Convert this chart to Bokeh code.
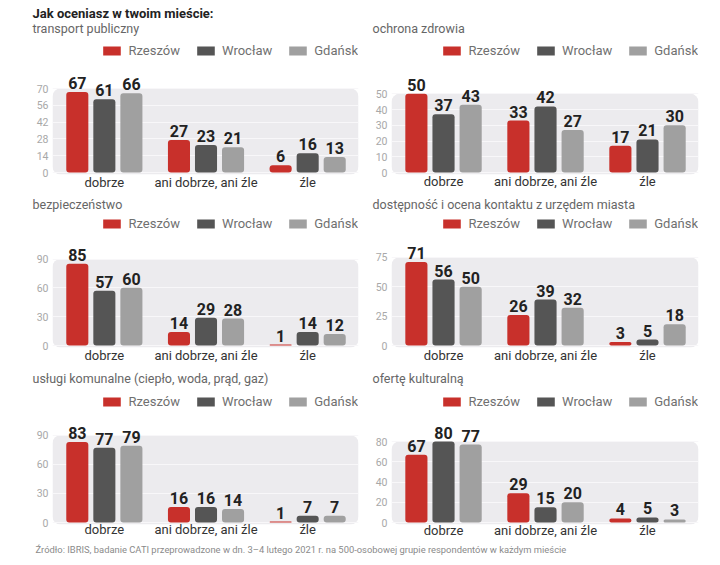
from bokeh.plotting import figure
from bokeh.models import ColumnDataSource, FixedTicker, BoxAnnotation, Label, Range1d
from bokeh.layouts import column, row
from bokeh.transform import dodge
from bokeh.core.properties import value
from bokeh.embed import file_html
from bokeh.resources import INLINE

# ---------------- data ----------------
cities = ["Rzeszów", "Wrocław", "Gdańsk"]
categories = ["dobrze", "ani dobrze, ani źle", "źle"]

main_title = "Jak oceniasz w twoim mieście:"
source_note = ("Źródło: IBRIS, badanie CATI przeprowadzone w dn. 3–4 lutego 2021 r. "
               "na 500-osobowej grupie respondentów w każdym mieście")

transport_title = "transport publiczny"
transport_rzeszow = [67, 27, 6]
transport_wroclaw = [61, 23, 16]
transport_gdansk = [66, 21, 13]
transport_ticks = [0, 14, 28, 42, 56, 70]

zdrowie_title = "ochrona zdrowia"
zdrowie_rzeszow = [50, 33, 17]
zdrowie_wroclaw = [37, 42, 21]
zdrowie_gdansk = [43, 27, 30]
zdrowie_ticks = [0, 10, 20, 30, 40, 50]

bezpieczenstwo_title = "bezpieczeństwo"
bezpieczenstwo_rzeszow = [85, 14, 1]
bezpieczenstwo_wroclaw = [57, 29, 14]
bezpieczenstwo_gdansk = [60, 28, 12]
bezpieczenstwo_ticks = [0, 30, 60, 90]

urzad_title = "dostępność i ocena kontaktu z urzędem miasta"
urzad_rzeszow = [71, 26, 3]
urzad_wroclaw = [56, 39, 5]
urzad_gdansk = [50, 32, 18]
urzad_ticks = [0, 25, 50, 75]

komunalne_title = "usługi komunalne (ciepło, woda, prąd, gaz)"
komunalne_rzeszow = [83, 16, 1]
komunalne_wroclaw = [77, 16, 7]
komunalne_gdansk = [79, 14, 7]
komunalne_ticks = [0, 30, 60, 90]

kultura_title = "ofertę kulturalną"
kultura_rzeszow = [67, 29, 4]
kultura_wroclaw = [80, 15, 5]
kultura_gdansk = [77, 20, 3]
kultura_ticks = [0, 20, 40, 60, 80]

# ---------------- style ----------------
COLORS = ["#c8302b", "#555555", "#a0a0a0"]
FONT = "Roboto"
OFFSETS = [-0.266, 0.0, 0.266]
BAR_W = 0.217
PAGE_W = 712


def make_panel(series, ticks, L):
    k = L["k"]
    fb = L["z0"] + 2
    p = figure(width=L["w"], height=L["bot"] - L["top"], output_backend="svg",
               toolbar_location=None, title_location=None,
               x_range=Range1d(-0.51, 2.50),
               y_range=Range1d(-2.0 / k, (L["z0"] - L["ft"]) / k),
               min_border_left=L["mbl"], min_border_right=L["mbr"],
               min_border_top=L["ft"] - L["top"], min_border_bottom=L["bot"] - fb)
    p.outline_line_color = None
    p.background_fill_color = "white"
    p.border_fill_color = "white"

    p.add_layout(BoxAnnotation(top=ticks[-1], fill_color="#ecebee", fill_alpha=1.0,
                               line_color=None, border_radius=8, level="image"))

    data = dict(x=list(range(len(categories))))
    for i, vals in enumerate(series):
        data["s%d" % i] = vals
        data["l%d" % i] = [str(v) for v in vals]
    src = ColumnDataSource(data)

    for i, city in enumerate(cities):
        p.vbar(x=dodge("x", OFFSETS[i]), top="s%d" % i, width=BAR_W, source=src,
               fill_color=COLORS[i], line_color=None, border_radius=3,
               legend_label=city)
        p.text(x=dodge("x", OFFSETS[i]), y="s%d" % i, text="l%d" % i, source=src,
               text_align="center", text_baseline="bottom", y_offset=-3,
               text_font=value(FONT), text_font_style="bold",
               text_font_size="16px", text_color="#222222")

    # axes
    p.yaxis.ticker = FixedTicker(ticks=ticks)
    p.yaxis.axis_line_color = None
    p.yaxis.major_tick_line_color = None
    p.yaxis.minor_tick_line_color = None
    p.yaxis.major_tick_out = 0
    p.yaxis.major_label_standoff = 4
    p.yaxis.major_label_text_font = FONT
    p.yaxis.major_label_text_font_size = "10.5px"
    p.yaxis.major_label_text_color = "#a8a8a8"

    p.xaxis.ticker = FixedTicker(ticks=list(range(len(categories))))
    p.xaxis.major_label_overrides = {i: c for i, c in enumerate(categories)}
    p.xaxis.axis_line_color = None
    p.xaxis.major_tick_line_color = None
    p.xaxis.minor_tick_line_color = None
    p.xaxis.major_tick_out = 0
    p.xaxis.major_label_standoff = L["xst"]
    p.xaxis.major_label_text_font = FONT
    p.xaxis.major_label_text_font_size = "13px"
    p.xaxis.major_label_text_color = "#333333"

    p.xgrid.visible = False
    p.ygrid.grid_line_color = "#f8f7f9"
    p.ygrid.grid_line_width = 1

    lg = p.legend[0]
    lg.location = "top_right"
    lg.orientation = "horizontal"
    lg.glyph_width = 22
    lg.glyph_height = 11
    lg.label_height = 12
    lg.label_standoff = 6
    lg.spacing = 14
    lg.padding = 0
    lg.margin = 0
    lg.border_line_color = None
    lg.background_fill_alpha = 0
    lg.label_text_font = FONT
    lg.label_text_font_size = "13px"
    lg.label_text_color = "#707070"
    return p


def text_strip(top, bot, items):
    """A thin figure holding heading texts; items: (text, x, center_y, size, style, color)."""
    h = bot - top
    s = figure(width=PAGE_W, height=h, x_range=Range1d(0, PAGE_W), y_range=Range1d(0, h),
               output_backend="svg", toolbar_location=None, min_border=0,
               x_axis_type=None, y_axis_type=None, title_location=None)
    s.outline_line_color = None
    for txt, x, cy, size, style, color in items:
        s.add_layout(Label(x=x, y=bot - cy, text=txt, text_font=FONT, text_font_style=style,
                           text_font_size=size, text_color=color, text_baseline="middle",
                           text_align="left"))
    return s


SUB = ("12.5px", "normal", "#666666")

# layout parameters (window pixel positions)
L_left = dict(w=360, mbl=52, mbr=2)
L_right = dict(w=352, mbl=31, mbr=14)

s1 = text_strip(0, 36, [(main_title, 32, 12.5, "13px", "bold", "#222222"),
                        (transport_title, 32, 28) + SUB,
                        (zdrowie_title, 372, 28) + SUB])
f1 = make_panel([transport_rzeszow, transport_wroclaw, transport_gdansk], transport_ticks,
                dict(L_left, top=36, bot=192, ft=43, z0=172, k=1.2, xst=0))
f2 = make_panel([zdrowie_rzeszow, zdrowie_wroclaw, zdrowie_gdansk], zdrowie_ticks,
                dict(L_right, top=36, bot=192, ft=43, z0=173, k=1.586, xst=-1))

s2 = text_strip(192, 213, [(bezpieczenstwo_title, 32, 204) + SUB,
                           (urzad_title, 372, 204) + SUB])
f3 = make_panel([bezpieczenstwo_rzeszow, bezpieczenstwo_wroclaw, bezpieczenstwo_gdansk],
                bezpieczenstwo_ticks,
                dict(L_left, top=213, bot=365, ft=216, z0=345, k=0.961, xst=0))
f4 = make_panel([urzad_rzeszow, urzad_wroclaw, urzad_gdansk], urzad_ticks,
                dict(L_right, top=213, bot=365, ft=216, z0=345, k=1.177, xst=0))

s3 = text_strip(365, 387, [(komunalne_title, 32, 378) + SUB,
                           (kultura_title, 372, 378) + SUB])
f5 = make_panel([komunalne_rzeszow, komunalne_wroclaw, komunalne_gdansk], komunalne_ticks,
                dict(L_left, top=387, bot=540, ft=394, z0=523, k=0.978, xst=-3))
f6 = make_panel([kultura_rzeszow, kultura_wroclaw, kultura_gdansk], kultura_ticks,
                dict(L_right, top=387, bot=540, ft=394, z0=522, k=1.0125, xst=-2))

ftr = text_strip(540, 560, [(source_note, 35, 549, "9.4px", "normal", "#8a8a8a")])

layout = column(s1, row(f1, f2), s2, row(f3, f4), s3, row(f5, f6), ftr)

with open("out.html", "w") as fh:
    fh.write(file_html(layout, INLINE))
